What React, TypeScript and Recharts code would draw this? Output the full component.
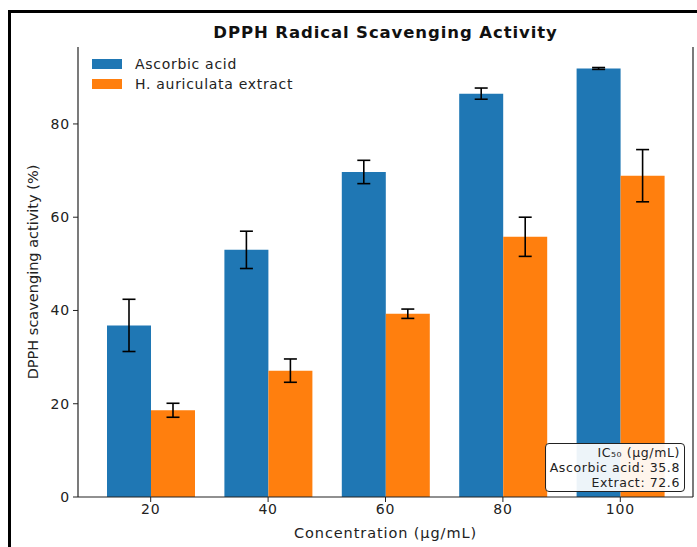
import React from 'react';
import { BarChart, Bar, XAxis, YAxis, ErrorBar } from 'recharts';

const concentrations = ['20', '40', '60', '80', '100'];
const ascorbicAcid = [36.8, 53.0, 69.7, 86.5, 91.9];
const ascorbicSd = [5.6, 4.0, 2.5, 1.2, 0.2];
const extract = [18.6, 27.1, 39.3, 55.8, 68.9];
const extractSd = [1.5, 2.5, 1.0, 4.2, 5.6];
const yTicks = [0, 20, 40, 60, 80];
const ic50Lines = ['IC₅₀ (µg/mL)', 'Ascorbic acid: 35.8', 'Extract: 72.6'];

const BLUE = '#1f77b4';
const ORANGE = '#ff7f0e';
const FONT = '"DejaVu Sans", sans-serif';

const data = concentrations.map((c, i) => ({
  conc: c,
  ascorbic: ascorbicAcid[i],
  ascorbicErr: ascorbicSd[i],
  extract: extract[i],
  extractErr: extractSd[i],
}));

const legendItems = [
  { name: 'Ascorbic acid', color: BLUE },
  { name: 'H. auriculata extract', color: ORANGE },
];

function LegendBox() {
  return (
    <div style={{ fontFamily: FONT, fontSize: 14, color: '#222', letterSpacing: '0.7px' }}>
      {legendItems.map((item) => (
        <div key={item.name} style={{ display: 'flex', alignItems: 'center', height: 20 }}>
          <span
            style={{
              display: 'inline-block',
              width: 30,
              height: 10,
              background: item.color,
              marginRight: 13,
            }}
          />
          {item.name}
        </div>
      ))}
    </div>
  );
}

export default function App() {
  const tickStyle = { fontSize: 14, fill: '#222', fontFamily: FONT, letterSpacing: 0.8 };
  return (
    <div
      style={{
        position: 'absolute',
        left: 0,
        top: 0,
        width: 697,
        height: 547,
        overflow: 'hidden',
        background: '#fff',
        fontFamily: FONT,
      }}
    >
      <div
        style={{
          position: 'absolute',
          left: 8,
          top: 10,
          width: 720,
          height: 580,
          border: '3px solid #000',
        }}
      />
      <div
        style={{
          position: 'absolute',
          left: 78,
          top: 23,
          width: 615,
          textAlign: 'center',
          fontSize: 16.5,
          fontWeight: 'bold',
          lineHeight: '20px',
          letterSpacing: '0.9px',
          color: '#111',
        }}
      >
        DPPH Radical Scavenging Activity
      </div>
      <div style={{ position: 'absolute', left: 0, top: 0 }}>
        <BarChart
          width={697}
          height={547}
          data={data}
          margin={{ top: 47, right: 0, bottom: 0, left: 0 }}
          barGap={0}
          barSize={44}
        >
          <XAxis
            dataKey="conc"
            height={50}
            padding={{ left: 14, right: 14 }}
            tick={tickStyle}
            tickLine={{ stroke: '#222' }}
            axisLine={{ stroke: '#222', strokeWidth: 1.2 }}
            tickSize={5}
            label={{
              value: 'Concentration (µg/mL)',
              position: 'insideBottom',
              offset: 9,
              style: { fontSize: 14.5, fill: '#222', fontFamily: FONT, letterSpacing: '0.9px' },
            }}
          />
          <XAxis
            xAxisId="top"
            dataKey="conc"
            orientation="top"
            height={0}
            tick={false}
            tickLine={false}
            axisLine={{ stroke: '#222', strokeWidth: 1.2 }}
          />
          <YAxis
            width={78}
            domain={[0, 96.5]}
            ticks={yTicks}
            tick={tickStyle}
            tickLine={{ stroke: '#222' }}
            axisLine={{ stroke: '#222', strokeWidth: 1.2 }}
            tickSize={5}
            tickMargin={3}
            label={{
              value: 'DPPH scavenging activity (%)',
              angle: -90,
              position: 'center',
              dx: -6,
              style: { fontSize: 14.5, fill: '#222', fontFamily: FONT, textAnchor: 'middle' },
            }}
          />
          <YAxis
            yAxisId="right"
            orientation="right"
            width={4}
            domain={[0, 96.5]}
            tick={false}
            tickLine={false}
            axisLine={{ stroke: '#222', strokeWidth: 1.2 }}
          />
          <Bar dataKey="ascorbic" name="Ascorbic acid" fill={BLUE} isAnimationActive={false}>
            <ErrorBar dataKey="ascorbicErr" width={6.5} stroke="#000" strokeWidth={1.6} />
          </Bar>
          <Bar dataKey="extract" name="H. auriculata extract" fill={ORANGE} isAnimationActive={false}>
            <ErrorBar dataKey="extractErr" width={6.5} stroke="#000" strokeWidth={1.6} />
          </Bar>
        </BarChart>
      </div>
      <div style={{ position: 'absolute', left: 92, top: 54 }}>
        <LegendBox />
      </div>
      <div
        style={{
          position: 'absolute',
          left: 545,
          top: 443,
          width: 140,
          height: 49,
          boxSizing: 'border-box',
          border: '1px solid #222',
          borderRadius: 4,
          background: 'rgba(255,255,255,0.92)',
          padding: '1px 4px 0 0',
          textAlign: 'right',
          fontSize: 12.5,
          lineHeight: '15px',
          letterSpacing: '0.6px',
          color: '#222',
        }}
      >
        {ic50Lines.map((line) => (
          <div key={line}>{line}</div>
        ))}
      </div>
    </div>
  );
}
